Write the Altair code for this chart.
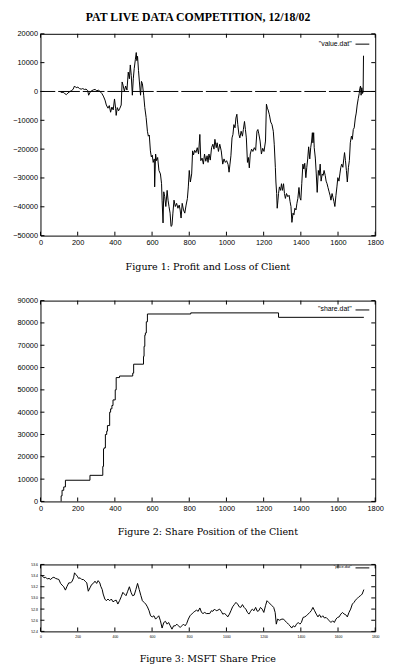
import altair as alt
import pandas as pd

TITLE = "PAT LIVE DATA COMPETITION, 12/18/02"
CAPTIONS = ["Figure 1: Profit and Loss of Client",
            "Figure 2: Share Position of the Client",
            "Figure 3: MSFT Share Price"]
LEGENDS = ['"value.dat"', '"share.dat"', '"price.dat"']

# ---- Figure 1: profit and loss (time index, value)
pl_x = [109, 122, 130, 139, 148, 157, 166, 175, 183, 192,
        201, 210, 219, 227, 236, 245, 254, 259, 268, 277,
        286, 294, 303, 312, 321, 330, 338, 347, 354, 363,
        370, 377, 384, 391, 398, 404, 407, 413, 420, 427,
        434, 439, 444, 451, 458, 465, 472, 478, 483, 488,
        494, 499, 504, 510, 515, 518, 522, 527, 532, 538,
        543, 548, 555, 561, 568, 575, 580, 585, 591, 596,
        601, 606, 612, 614, 619, 624, 630, 637, 645, 651,
        654, 659, 663, 668, 674, 681, 686, 691, 697, 702,
        707, 712, 718, 725, 732, 739, 746, 751, 756, 762,
        769, 776, 783, 790, 795, 800, 806, 813, 818, 823,
        829, 836, 843, 850, 857, 862, 869, 876, 882, 889,
        896, 901, 906, 913, 920, 927, 933, 938, 945, 950,
        957, 964, 972, 980, 987, 994, 1001, 1009, 1014, 1019,
        1024, 1030, 1035, 1040, 1046, 1051, 1056, 1061, 1067, 1072,
        1079, 1086, 1091, 1097, 1102, 1107, 1113, 1118, 1123, 1128,
        1135, 1142, 1150, 1157, 1164, 1169, 1174, 1181, 1188, 1195,
        1202, 1210, 1215, 1220, 1224, 1231, 1238, 1245, 1252, 1257,
        1263, 1266, 1270, 1273, 1277, 1280, 1285, 1291, 1296, 1301,
        1307, 1312, 1317, 1323, 1330, 1337, 1342, 1347, 1352, 1358,
        1363, 1368, 1374, 1379, 1384, 1390, 1395, 1400, 1405, 1411,
        1416, 1421, 1427, 1432, 1437, 1442, 1448, 1453, 1458, 1462,
        1465, 1469, 1472, 1478, 1483, 1488, 1494, 1499, 1504, 1509,
        1515, 1520, 1525, 1531, 1536, 1541, 1546, 1552, 1557, 1562,
        1568, 1573, 1578, 1583, 1589, 1594, 1599, 1605, 1610, 1615,
        1620, 1626, 1631, 1635, 1640, 1645, 1650, 1656, 1661, 1666,
        1672, 1677, 1682, 1687, 1693, 1698, 1703, 1709, 1714, 1717,
        1721, 1724, 1728, 1732, 1735, 1737]
pl_y = [-300, -300, -700, -1100, -500, -100, 300, 700, 1900, 1300,
        1500, 1000, 800, 1000, 700, 800, 300, -1300, -100, 300,
        600, 700, 200, 500, -100, -700, -1600, -3000, -4700, -5800,
        -4900, -7200, -5400, -6400, -2600, -5800, -8300, -5600, -6700, -5800,
        -4700, 3300, 2200, 100, 1900, 500, 6700, 4400, 9200, 5600,
        -1300, 4400, 7900, 11000, 13500, 10700, 12200, 7300, 3300, -1300,
        3500, 2700, -1300, -5600, -9000, -13800, -15500, -15100, -20600, -22700,
        -22100, -24600, -23400, -33100, -21700, -24000, -22900, -27400, -28600, -32000,
        -37700, -45600, -34800, -36500, -39900, -34300, -37700, -39900, -42200, -46800,
        -46500, -42200, -37700, -39900, -38800, -40500, -39400, -41100, -43900, -38800,
        -41100, -42200, -39400, -37100, -33100, -27400, -31400, -28600, -20600, -22000,
        -20400, -21200, -19500, -21700, -14900, -24000, -23100, -25200, -21700, -24200,
        -22300, -24600, -21700, -23800, -19500, -18300, -20000, -16600, -19500, -17800,
        -20800, -18300, -20600, -25200, -23400, -24600, -24000, -25400, -28000, -25200,
        -22300, -16100, -14900, -11500, -12600, -9200, -7900, -11500, -14900, -16100,
        -13800, -15500, -13200, -10400, -13200, -16100, -24600, -22900, -26500, -21700,
        -20000, -20800, -19500, -20400, -13800, -13200, -14700, -17200, -21700, -19700,
        -20800, -17200, -4400, -5800, -6400, -8100, -10600, -11500, -13800, -18300,
        -26300, -31400, -35400, -40500, -37700, -35400, -33100, -34300, -32000, -34300,
        -32000, -35400, -37100, -35400, -36500, -36000, -38200, -39900, -45400, -42200,
        -42800, -40500, -41100, -38800, -37100, -33300, -36800, -37700, -32000, -25200,
        -26900, -24900, -29900, -26300, -23400, -19200, -23400, -19500, -17200, -14300,
        -17800, -14300, -19500, -23100, -28600, -35000, -27400, -29100, -25200, -31100,
        -28600, -29100, -27400, -29100, -31100, -32000, -33300, -34800, -36000, -37700,
        -35400, -36800, -38200, -39900, -36000, -33100, -29900, -31100, -28600, -26300,
        -25200, -26300, -23400, -21200, -24000, -27400, -31400, -26300, -24000, -17800,
        -15500, -16600, -13200, -12600, -9200, -7500, -4700, -2400, -700, 1000,
        1900, -1300, 1300, -700, -100, 12400]

# ---- Figure 2: share position (step changes)
sh_x = [111, 111, 116, 125, 134, 266, 335, 339, 342, 349,
        356, 360, 372, 377, 384, 390, 402, 407, 425, 496,
        501, 554, 557, 561, 564, 569, 575, 808, 1280, 1739]
sh_y = [0, 2500, 5000, 6500, 9500, 11700, 15700, 23500, 24000, 30000,
        31500, 34000, 40000, 41500, 43000, 45500, 50000, 55500, 56200, 57500,
        61500, 65000, 69500, 74500, 75500, 80500, 84000, 84500, 82500, 82500]

# ---- Figure 3: MSFT share price
pr_x = [2, 11, 19, 28, 37, 46, 55, 63, 72, 81,
        90, 99, 108, 116, 125, 134, 143, 152, 160, 169,
        178, 183, 190, 198, 205, 213, 222, 231, 240, 249,
        257, 266, 275, 284, 293, 302, 310, 319, 324, 332,
        337, 346, 354, 363, 372, 381, 390, 399, 407, 416,
        425, 434, 443, 451, 460, 469, 478, 487, 495, 504,
        513, 522, 531, 540, 548, 557, 566, 575, 584, 592,
        601, 610, 619, 628, 636, 645, 654, 663, 672, 681,
        689, 698, 707, 716, 725, 733, 742, 751, 760, 769,
        778, 786, 795, 804, 813, 822, 830, 839, 848, 857,
        866, 874, 883, 892, 901,
        910, 919, 927, 936, 945, 954, 963, 972, 980, 989,
        998, 1007, 1016, 1024, 1033, 1042, 1051, 1060, 1069, 1077,
        1086, 1095, 1104, 1113, 1121, 1130, 1139, 1148, 1157, 1166,
        1174, 1183, 1192, 1201, 1210, 1218, 1227, 1236, 1245, 1254,
        1262, 1268, 1275, 1285, 1298, 1307, 1315, 1324, 1333, 1342,
        1351, 1359, 1368, 1377, 1386, 1395, 1403, 1412, 1421, 1430,
        1439, 1448, 1456, 1465, 1474, 1483, 1492, 1500, 1509, 1518,
        1527, 1536, 1545, 1553, 1562, 1571, 1580, 1589, 1597, 1606,
        1615, 1624, 1633, 1641, 1650, 1659, 1668, 1677, 1686, 1694,
        1703, 1712, 1721, 1730, 1739]
pr_y = [53.41, 53.39, 53.36, 53.37, 53.34, 53.35, 53.33, 53.36, 53.37, 53.35,
        53.34, 53.33, 53.26, 53.23, 53.20, 53.14, 53.21, 53.27, 53.27, 53.29,
        53.36, 53.45, 53.42, 53.39, 53.35, 53.36, 53.33, 53.33, 53.30, 53.27,
        53.12, 53.18, 53.24, 53.26, 53.30, 53.26, 53.31, 53.27, 53.21, 53.15,
        53.07, 52.98, 52.95, 52.98, 52.95, 52.98, 52.93, 52.95, 52.96, 52.89,
        52.95, 53.02, 53.10, 53.07, 53.04, 53.12, 53.20, 53.10, 53.04, 53.05,
        53.15, 53.26, 53.15, 53.04, 52.95, 52.92, 52.89, 52.84, 52.77, 52.68,
        52.66, 52.68, 52.62, 52.65, 52.68, 52.59, 52.46, 52.56, 52.58, 52.53,
        52.56, 52.50, 52.44, 52.50, 52.50, 52.53, 52.50, 52.47, 52.50, 52.53,
        52.50, 52.54, 52.62, 52.68, 52.71, 52.74, 52.76, 52.78, 52.76, 52.82,
        52.74, 52.72, 52.74, 52.72, 52.72,
        52.72, 52.77, 52.76, 52.80, 52.77, 52.78, 52.80, 52.76, 52.71, 52.72,
        52.70, 52.66, 52.71, 52.77, 52.84, 52.88, 52.92, 52.89, 52.84, 52.83,
        52.88, 52.83, 52.80, 52.74, 52.71, 52.76, 52.80, 52.77, 52.83, 52.76,
        52.77, 52.83, 52.80, 52.74, 52.86, 52.95, 52.92, 52.89, 52.86, 52.83,
        52.74, 52.53, 52.62, 52.60, 52.62, 52.62, 52.59, 52.56, 52.53, 52.50,
        52.46, 52.50, 52.48, 52.53, 52.56, 52.53, 52.56, 52.65, 52.66, 52.68,
        52.71, 52.74, 52.77, 52.83, 52.77, 52.71, 52.66, 52.70, 52.65, 52.68,
        52.64, 52.65, 52.62, 52.59, 52.56, 52.59, 52.56, 52.62, 52.65, 52.66,
        52.71, 52.74, 52.71, 52.70, 52.66, 52.74, 52.80, 52.89, 52.92, 52.96,
        52.99, 53.02, 53.04, 53.07, 53.15]

x_ticks = [0, 200, 400, 600, 800, 1000, 1200, 1400, 1600, 1800]
pl_ticks = [-50000, -40000, -30000, -20000, -10000, 0, 10000, 20000]
sh_ticks = [0, 10000, 20000, 30000, 40000, 50000, 60000, 70000, 80000, 90000]
pr_ticks = [52.4, 52.6, 52.8, 53.0, 53.2, 53.4, 53.6]

W = 340
SERIF = "Liberation Serif"
CAPFONT = "DejaVu Serif"
SANS = "Liberation Sans"


def panel(xs, ys, ydomain, yticks, height, caption, legend, fs, yfmt,
          step=False, zero_line=False, leg_y=10, leg_fs=7, cap_offset=16):
    df = pd.DataFrame({"x": xs, "y": ys})
    xscale = alt.Scale(domain=[0, 1800], nice=False, zero=False)
    yscale = alt.Scale(domain=ydomain, nice=False, zero=False)
    xaxis = alt.Axis(values=x_ticks, tickSize=0, domain=False, grid=False,
                     labelFont=SANS, labelFontSize=fs, labelColor="black",
                     labelPadding=3, title=None, format="d", labelFlush=False)
    yaxis = alt.Axis(values=yticks, tickSize=0, domain=False, grid=False,
                     labelFont=SANS, labelFontSize=fs, labelColor="black",
                     labelPadding=3, title=None, format=yfmt)
    X = alt.X("x:Q", scale=xscale, axis=xaxis)
    Y = alt.Y("y:Q", scale=yscale, axis=yaxis)
    line = alt.Chart(df).mark_line(
        color="black", strokeWidth=1,
        interpolate="step-after" if step else "linear"
    ).encode(x=X, y=Y)

    xt = pd.DataFrame({"x": x_ticks})
    yt = pd.DataFrame({"y": yticks})
    tb = alt.Chart(xt).mark_rule(color="black", strokeWidth=1).encode(
        x=X, y=alt.value(height), y2=alt.value(height - 4))
    tt = alt.Chart(xt).mark_rule(color="black", strokeWidth=1).encode(
        x=X, y=alt.value(0), y2=alt.value(4))
    tl = alt.Chart(yt).mark_rule(color="black", strokeWidth=1).encode(
        y=Y, x=alt.value(0), x2=alt.value(4))
    tr = alt.Chart(yt).mark_rule(color="black", strokeWidth=1).encode(
        y=Y, x=alt.value(W - 4), x2=alt.value(W))

    lt = alt.Chart(pd.DataFrame({"t": [legend]})).mark_text(
        align="right", baseline="middle", font=SANS, fontSize=leg_fs,
        color="black").encode(x=alt.value(316), y=alt.value(leg_y), text="t:N")
    ll = alt.Chart(pd.DataFrame({"a": [0]})).mark_rule(
        color="black", strokeWidth=1).encode(
        x=alt.value(320), x2=alt.value(334), y=alt.value(leg_y + 0.5))

    layers = [line, tb, tt, tl, tr, lt, ll]
    if zero_line:
        zl = alt.Chart(pd.DataFrame({"y": [0]})).mark_rule(
            color="black", strokeWidth=1, strokeDash=[22, 3]).encode(y=Y)
        layers.insert(1, zl)
    return alt.layer(*layers).properties(
        width=W, height=height,
        title=alt.TitleParams(caption, orient="bottom", font=CAPFONT,
                              fontSize=9.7, fontWeight="normal",
                              anchor="middle", offset=cap_offset,
                              color="black"))


p1 = panel(pl_x, pl_y, [-50000, 20000], pl_ticks, 205, CAPTIONS[0],
           LEGENDS[0], 7.5, "d", zero_line=True, leg_y=10)
p2 = panel(sh_x, sh_y, [0, 90000], sh_ticks, 204, CAPTIONS[1],
           LEGENDS[1], 7.5, "d", step=True, leg_y=9)
p3 = panel(pr_x, pr_y, [52.4, 53.6], pr_ticks, 68, CAPTIONS[2],
           LEGENDS[2], 3.5, ".1f", leg_y=3, leg_fs=4, cap_offset=17)

chart = alt.vconcat(p1, p2, p3, spacing=24).properties(
    title=alt.TitleParams(TITLE, font=SERIF, fontSize=12, fontWeight="bold",
                          anchor="middle", offset=6, color="black"),
    padding={"left": 4, "top": -3, "right": 5, "bottom": 0},
    background="white",
).configure_view(stroke="black", strokeWidth=1)

chart.save("out.html", embed_options={"renderer": "svg", "actions": False})
